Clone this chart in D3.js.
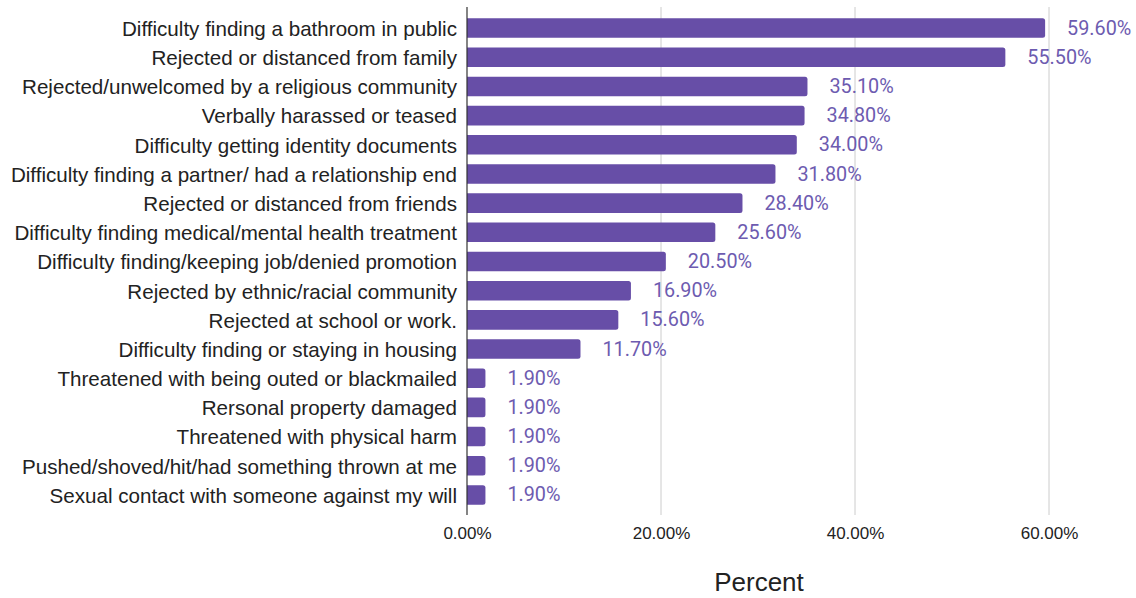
<!DOCTYPE html>
<html>
<head>
<meta charset="utf-8">
<script src="https://cdn.jsdelivr.net/npm/d3@7"></script>
<style>
  body { margin: 0; background: #fff; }
  svg { display: block; }
</style>
</head>
<body>
<svg id="chart" width="1136" height="598"></svg>
<script>
const categories = [
  "Difficulty finding a bathroom in public",
  "Rejected or distanced from family",
  "Rejected/unwelcomed by a religious community",
  "Verbally harassed or teased",
  "Difficulty getting identity documents",
  "Difficulty finding a partner/ had a relationship end",
  "Rejected or distanced from friends",
  "Difficulty finding medical/mental health treatment",
  "Difficulty finding/keeping job/denied promotion",
  "Rejected by ethnic/racial community",
  "Rejected at school or work.",
  "Difficulty finding or staying in housing",
  "Threatened with being outed or blackmailed",
  "Rersonal property damaged",
  "Threatened with physical harm",
  "Pushed/shoved/hit/had something thrown at me",
  "Sexual contact with someone against my will"
];
const percentValues = [59.6, 55.5, 35.1, 34.8, 34.0, 31.8, 28.4, 25.6, 20.5, 16.9, 15.6, 11.7, 1.9, 1.9, 1.9, 1.9, 1.9];
const tickValues = [0, 20, 40, 60];
const axisTitle = "Percent";

(function draw() {
  const svg = d3.select("#chart");
  const plotLeft = 467, plotRight = 1049, plotTop = 13.5, plotBottom = 509.5;

  const x = d3.scaleLinear().domain([0, 60]).range([plotLeft, plotRight]);
  const y = d3.scaleBand().domain(categories).range([plotTop, plotBottom])
    .paddingInner(0.33).paddingOuter(0.165);

  // vertical gridlines
  svg.append("g").selectAll("line").data(tickValues.filter(d => d > 0)).join("line")
    .attr("x1", d => x(d)).attr("x2", d => x(d))
    .attr("y1", 7).attr("y2", 515)
    .attr("stroke", "#cccccc").attr("stroke-width", 1);

  // bars with rounded right ends
  const barColor = "#674ea7";
  svg.append("g").selectAll("path").data(categories).join("path")
    .attr("fill", barColor)
    .attr("d", (c, i) => {
      const x0 = x(0), x1 = x(percentValues[i]);
      const y0 = y(c), h = y.bandwidth(), r = Math.min(2.5, (x1 - x0) / 2);
      return `M${x0},${y0}H${x1 - r}Q${x1},${y0} ${x1},${y0 + r}V${y0 + h - r}Q${x1},${y0 + h} ${x1 - r},${y0 + h}H${x0}Z`;
    });

  // baseline axis
  svg.append("line")
    .attr("x1", plotLeft).attr("x2", plotLeft).attr("y1", 7).attr("y2", 515)
    .attr("stroke", "#333333").attr("stroke-width", 1.2);

  // category labels
  svg.append("g").selectAll("text").data(categories).join("text")
    .attr("x", plotLeft - 10)
    .attr("y", c => y(c) + y.bandwidth() / 2)
    .attr("dy", "0.38em")
    .attr("text-anchor", "end")
    .attr("font-family", "Liberation Sans, Arial, sans-serif")
    .attr("font-size", 20.6)
    .attr("fill", "#222222")
    .text(c => c);

  // value labels
  svg.append("g").selectAll("text").data(categories).join("text")
    .attr("x", (c, i) => x(percentValues[i]) + 22)
    .attr("y", c => y(c) + y.bandwidth() / 2)
    .attr("dy", "0.33em")
    .attr("font-family", "Roboto, sans-serif")
    .attr("font-size", 19.8)
    .attr("fill", "#6d5bb0")
    .text((c, i) => percentValues[i].toFixed(2) + "%");

  // x axis tick labels
  const axis = d3.axisBottom(x).tickValues(tickValues).tickSize(0).tickPadding(0)
    .tickFormat(d => d.toFixed(2) + "%");
  const gx = svg.append("g").attr("transform", "translate(0,527)").call(axis);
  gx.select(".domain").remove();
  gx.selectAll("text")
    .attr("font-family", "Liberation Sans, Arial, sans-serif")
    .attr("font-size", 17)
    .attr("fill", "#222222");

  // axis title
  svg.append("text")
    .attr("x", 759).attr("y", 591)
    .attr("text-anchor", "middle")
    .attr("font-family", "Liberation Sans, Arial, sans-serif")
    .attr("font-size", 26)
    .attr("fill", "#222222")
    .text(axisTitle);
})();
</script>
</body>
</html>
